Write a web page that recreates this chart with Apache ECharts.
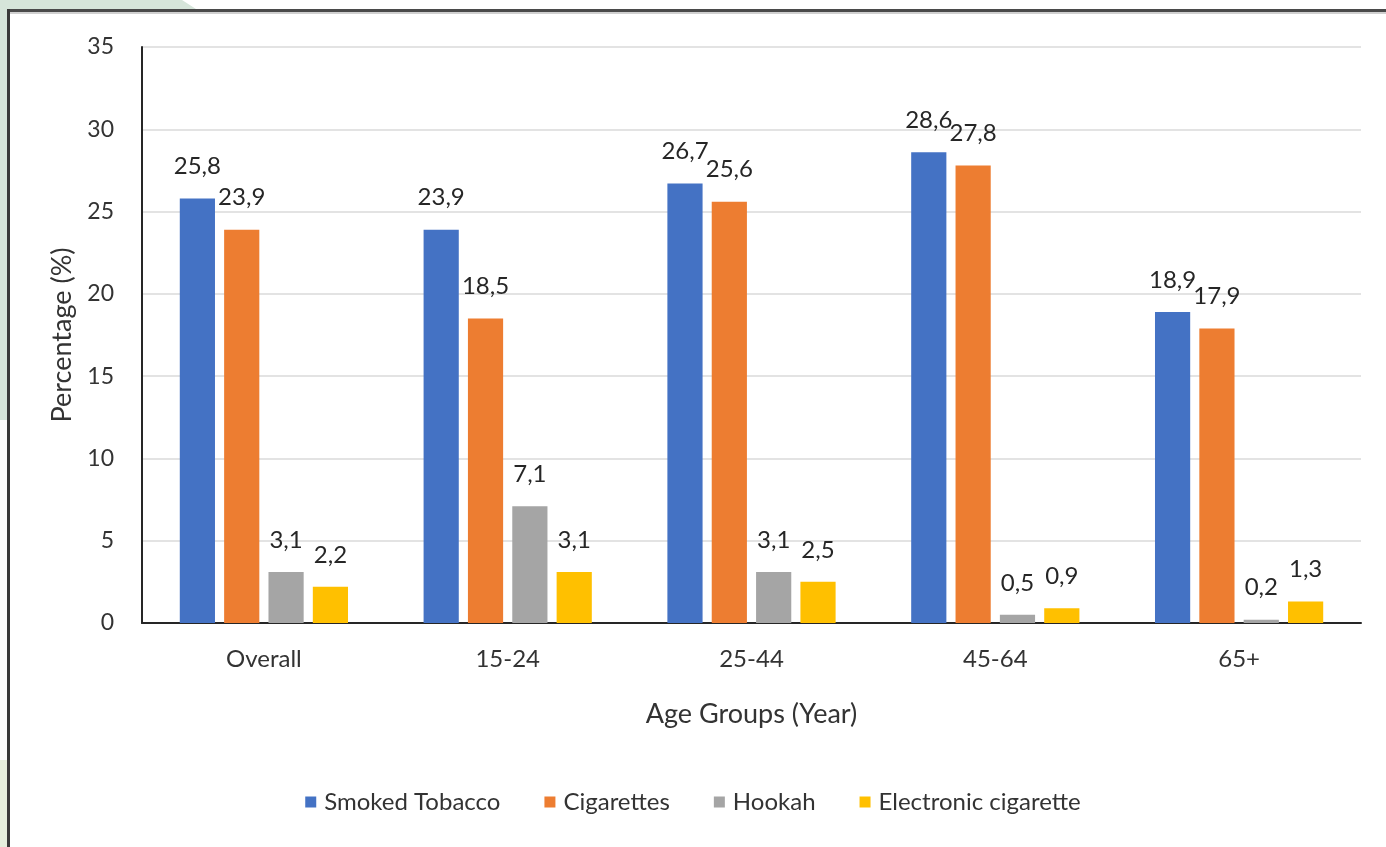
<!DOCTYPE html>
<html><head><meta charset="utf-8">
<script src="https://cdn.jsdelivr.net/npm/echarts@6/dist/echarts.min.js"></script>
<style>html,body{margin:0;padding:0;background:#fff}#c{width:1386px;height:847px}</style>
</head><body><div id="c"></div>
<script>
const categories = ['Overall', '15-24', '25-44', '45-64', '65+'];
const smokedTobacco = [25.8, 23.9, 26.7, 28.6, 18.9];
const cigarettes = [23.9, 18.5, 25.6, 27.8, 17.9];
const hookah = [3.1, 7.1, 3.1, 0.5, 0.2];
const eCigarette = [2.2, 3.1, 2.5, 0.9, 1.3];
const yTicks = [0, 5, 10, 15, 20, 25, 30, 35];

const FONT = 'Lato';
const chart = echarts.init(document.getElementById('c'), null, {renderer: 'canvas'});
const lbl = {show: true, position: 'top', distance: 20, color: '#262626', fontSize: 24, fontFamily: FONT,
  formatter: p => String(p.value).replace('.', ',')};
function s(name, data, color) {
  return {name, type: 'bar', data, itemStyle: {color}, label: lbl, barGap: '26%', barCategoryGap: '31%'};
}
chart.setOption({
  animation: false,
  backgroundColor: '#fff',
  textStyle: {fontFamily: FONT},
  graphic: [
    {type: 'polygon', shape: {points: [[0,0],[182,0],[196,9],[8,9],[8,420],[0,420]]}, style: {fill: '#d6e5da'}, silent: true},
    {type: 'rect', shape: {x: 0, y: 760, width: 8, height: 87}, style: {fill: '#e6efdd'}, silent: true},
    {type: 'rect', shape: {x: 7, y: 9, width: 1379, height: 3}, style: {fill: '#4a4a4a'}, silent: true},
    {type: 'rect', shape: {x: 7, y: 9, width: 3, height: 838}, style: {fill: '#3a3a3a'}, silent: true},
    {type: 'rect', shape: {x: 10, y: 12, width: 1376, height: 2}, style: {fill: '#d0d0d0'}, silent: true}
  ],
  grid: {left: 142, right: 25, top: 47, bottom: 224, containLabel: false},
  legend: {
    bottom: 28, left: 'center', itemWidth: 11, itemHeight: 11, itemGap: 44, icon: 'rect',
    textStyle: {fontSize: 24, color: '#333', fontFamily: FONT, padding: [0, 0, 0, 3]},
    data: ['Smoked Tobacco', 'Cigarettes', 'Hookah', 'Electronic cigarette']
  },
  xAxis: {
    type: 'category', data: categories,
    name: 'Age Groups (Year)', nameLocation: 'middle', nameGap: 78,
    nameTextStyle: {fontSize: 27, color: '#333', fontFamily: FONT},
    axisLine: {lineStyle: {color: '#262626', width: 2}},
    axisTick: {show: false},
    axisLabel: {fontSize: 24, color: '#333', margin: 24, fontFamily: FONT}
  },
  yAxis: {
    type: 'value', min: yTicks[0], max: yTicks[yTicks.length - 1], interval: 5,
    name: 'Percentage (%)', nameLocation: 'middle', nameGap: 66,
    nameTextStyle: {fontSize: 27, color: '#333', fontFamily: FONT},
    axisLine: {show: true, lineStyle: {color: '#262626', width: 2}},
    axisTick: {show: false},
    axisLabel: {fontSize: 23, color: '#333', margin: 28, fontFamily: FONT},
    splitLine: {lineStyle: {color: '#e3e3e3', width: 2}}
  },
  series: [
    s('Smoked Tobacco', smokedTobacco, '#4472C4'),
    s('Cigarettes', cigarettes, '#ED7D31'),
    s('Hookah', hookah, '#A5A5A5'),
    s('Electronic cigarette', eCigarette, '#FFC000')
  ]
});
</script></body></html>
